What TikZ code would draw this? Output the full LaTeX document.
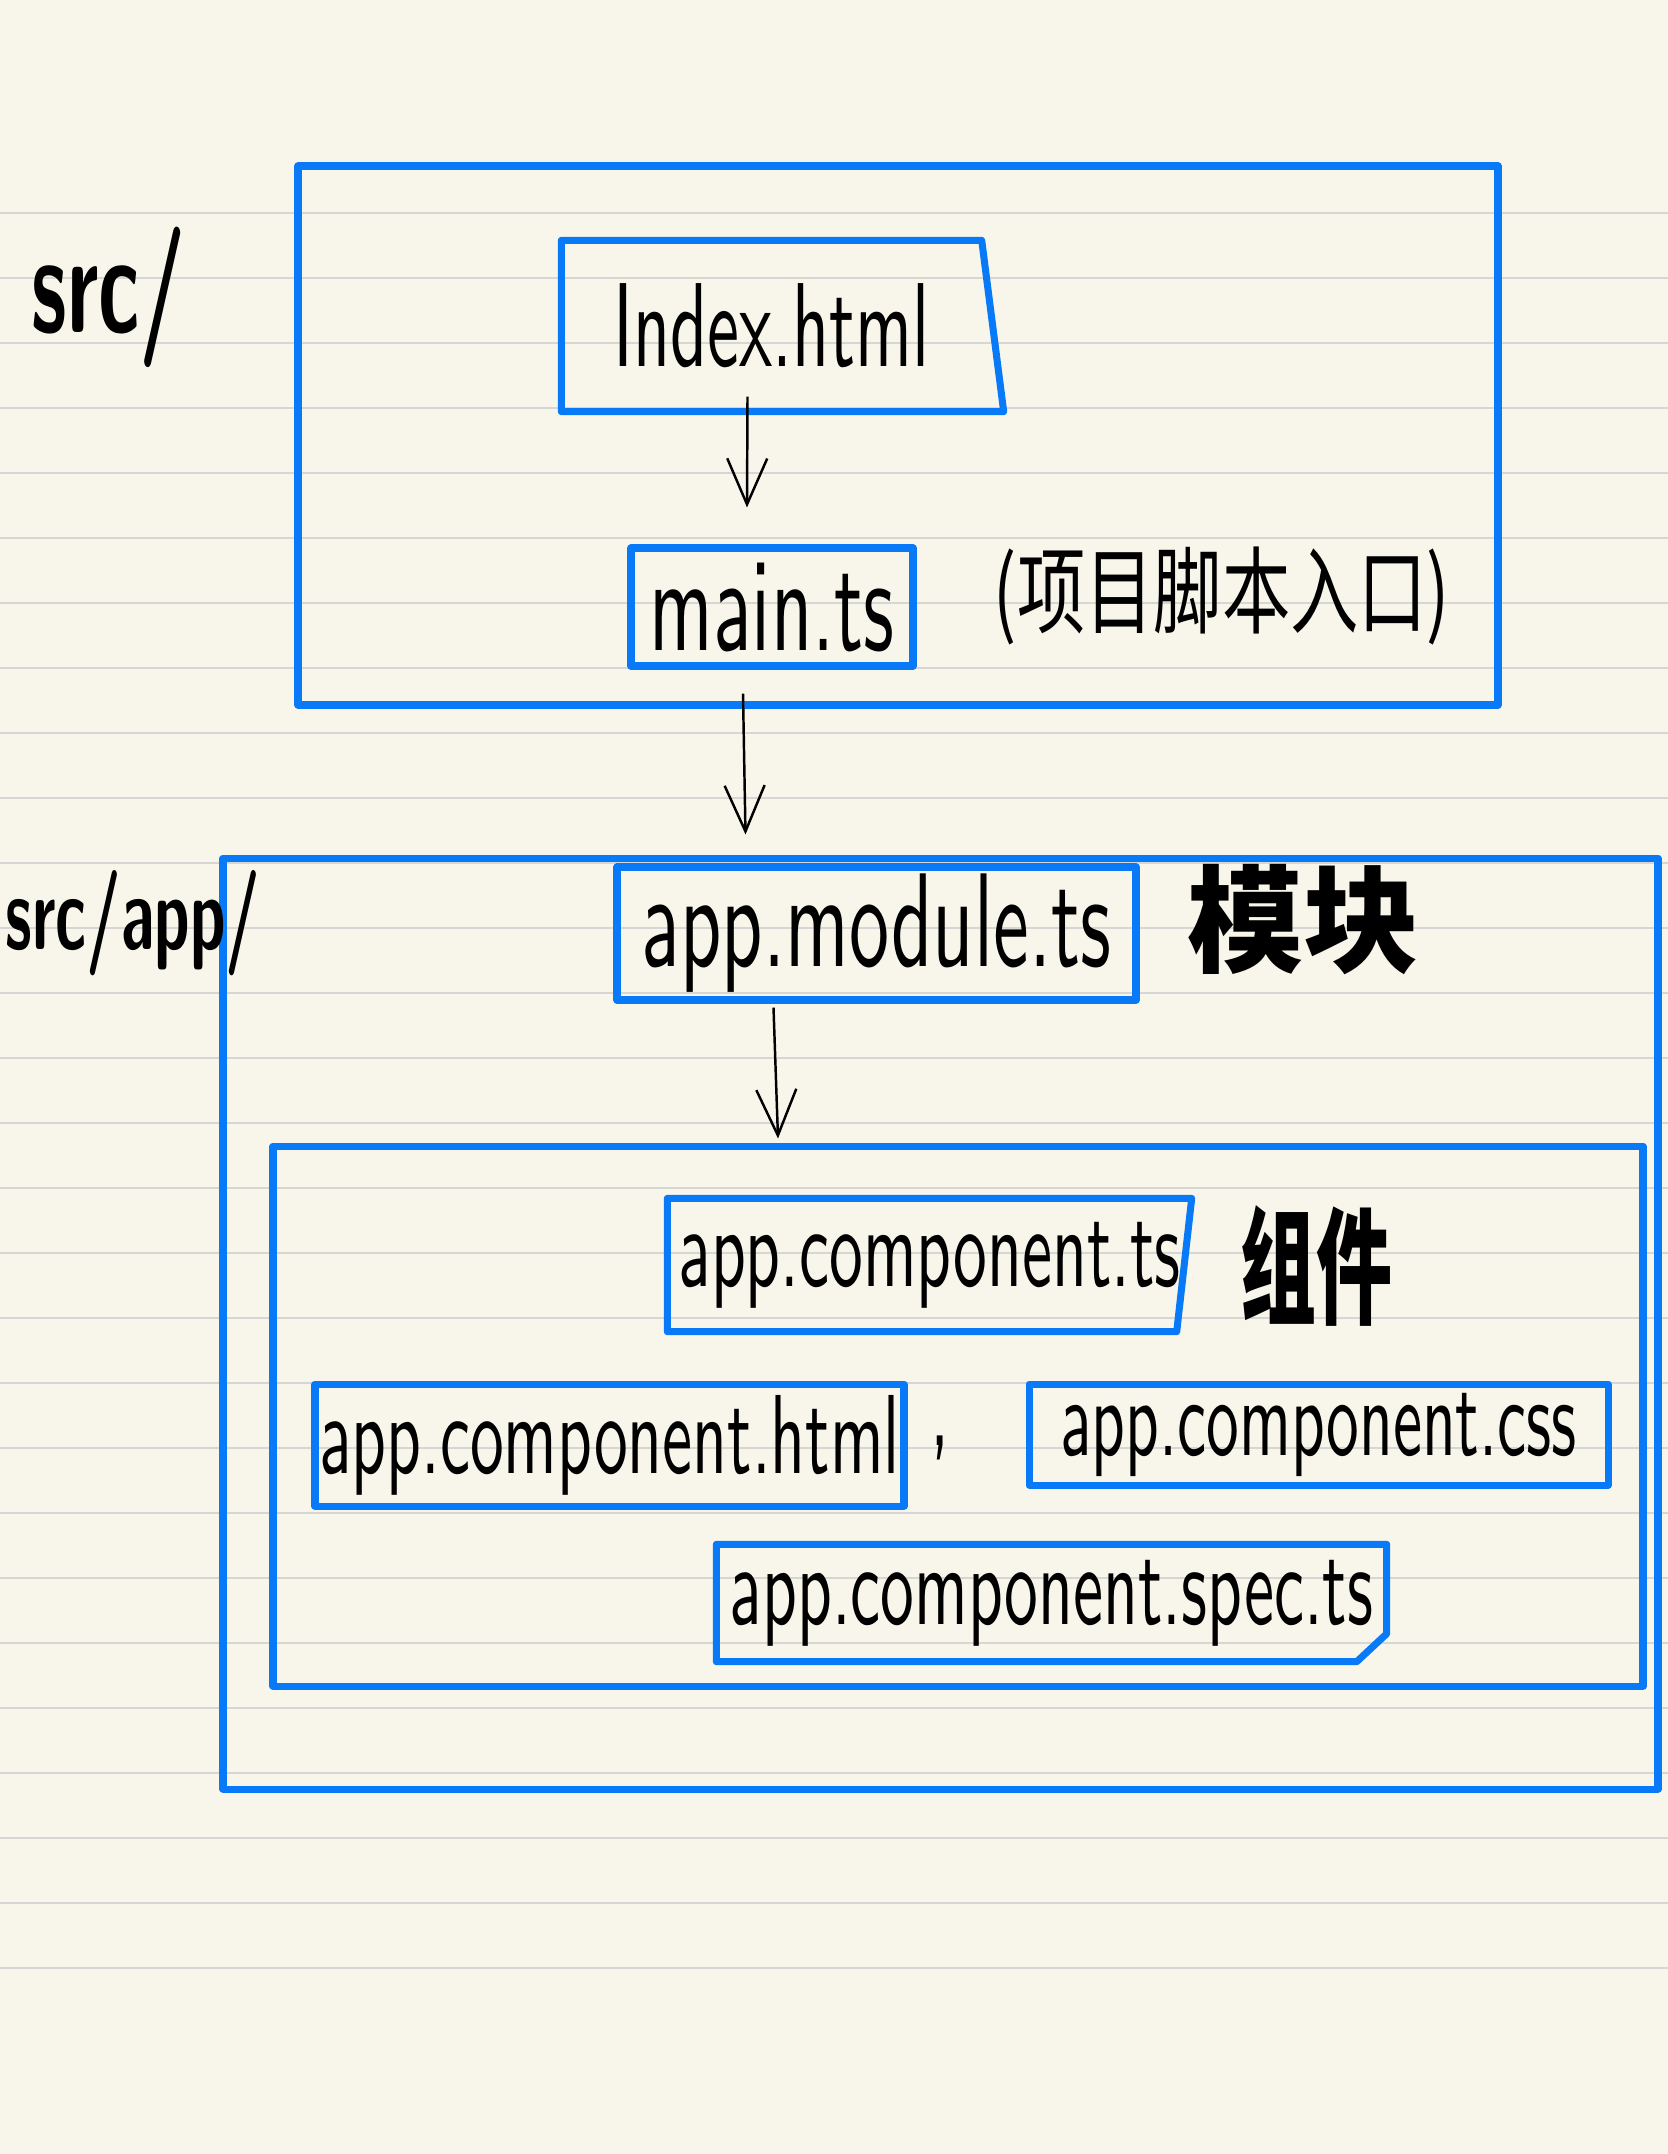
\documentclass[tikz,border=0pt]{standalone}
\usepackage{fontspec}
\usetikzlibrary{positioning}
\usetikzlibrary{arrows.meta,calc}

\definecolor{paper}{RGB}{248,246,234}
\definecolor{ruleline}{RGB}{214,214,212}
\definecolor{penblue}{RGB}{8,122,248}

\newfontfamily\handfont[FakeStretch=0.6]{lmsans10-regular.otf}
\newfontfamily\handbold[FakeStretch=0.6]{lmsans10-bold.otf}
\newfontfamily\cjk[FakeStretch=0.72]{Noto Sans CJK SC}
\newfontfamily\cjkwide{Noto Sans CJK SC}
\newfontfamily\cjknarrow[FakeStretch=0.6]{Noto Sans CJK SC}

\tikzset{
  bluebox/.style={draw=penblue, line width=2pt, line join=round, inner sep=0pt},
  hand/.style={font=\handfont\fontsize{#1}{#1}\selectfont, inner sep=0pt},
  flow/.style={->, line width=0.7pt},
}

\begin{document}
\begin{tikzpicture}
[x=0.1mm, y=-0.1mm, >={Straight Barb[length=4.6mm,width=4mm]}]

% Paper and ruled lines:
\useasboundingbox (0,0) rectangle (1668,2154);
\fill[paper] (0,0) rectangle (1668,2154);
\foreach \k in {0,...,27}
  \draw[ruleline, line width=0.6pt] (0,{213+65*\k}) -- (1668,{213+65*\k});

% Folder src/:
\node[bluebox, minimum width=120mm, minimum height=53.9mm] (src) at (898,435.5) {};
\node[font=\handbold\fontsize{40}{40}\selectfont] (srclbl) at (109,297) {src/};
\node[hand=34, minimum width=41.9mm, minimum height=17mm] (idx) at (771.5,326) {Index.html};
\draw[bluebox] (idx.north west) -- (idx.north east) -- ([xshift=2.2mm]idx.south east) -- (idx.south west) -- cycle;
\node[bluebox, hand=38, minimum width=28.2mm, minimum height=11.8mm] (main) at (772,607) {main.ts};
\node[font=\cjk\fontsize{27}{27}\selectfont] (note) at (1222,596) {(项目脚本入口)};

% Folder src/app/:
\node[bluebox, minimum width=143.5mm, minimum height=93.1mm] (app) at (940.5,1323.5) {};
\node[font=\handbold\fontsize{30}{30}\selectfont] (applbl) at (133,923) {src/app/};
\node[bluebox, hand=38, minimum width=51.9mm, minimum height=13.3mm] (mod) at (876.5,933.5) {app.module.ts};
\node[font=\cjkwide\bfseries\fontsize{33}{33}\selectfont] (modnote) at (1303,920) {模块};

% Component files:
\node[bluebox, minimum width=137mm, minimum height=54mm] (comp) at (958,1416) {};
\node[hand=32, minimum width=52.3mm, minimum height=13.2mm] (cts) at (929.5,1265) {app.component.ts};
\draw[bluebox] (cts.north west) -- (cts.north east) -- ([xshift=-1.5mm]cts.south east) -- (cts.south west) -- cycle;
\node[font=\cjknarrow\bfseries\fontsize{36}{36}\selectfont] (compnote) at (1316,1266) {组件};
\node[bluebox, hand=32, minimum width=58.9mm, minimum height=12.2mm] (chtml) at (609.5,1445) {app.component.html};
\node[hand=33, anchor=base] (comma) at (940,1445) {,};
\node[bluebox, hand=31, minimum width=57.9mm, minimum height=10.1mm] (ccss) at (1318.5,1434.5) {app.component.css};
\node[hand=32, minimum width=66.9mm, minimum height=11.6mm] (spec) at (1051.5,1603) {app.component.spec.ts};
\draw[bluebox] (spec.north west) -- (spec.north east) -- ([yshift=2.8mm]spec.south east) -- ([xshift=-3mm]spec.south east) -- (spec.south west) -- cycle;

% Arrows:
\draw[flow] ($(idx.south)+(-24,-15)$) -- ($(main.north)+(-25,-37)$);
\draw[flow] ($(main.south)+(-29,24)$) -- ($(mod.north)+(-131,-29)$);
\draw[flow] ($(mod.south)+(-103,4)$) -- ($(comp.north)+(-180,-4)$);

\end{tikzpicture}
\end{document}
